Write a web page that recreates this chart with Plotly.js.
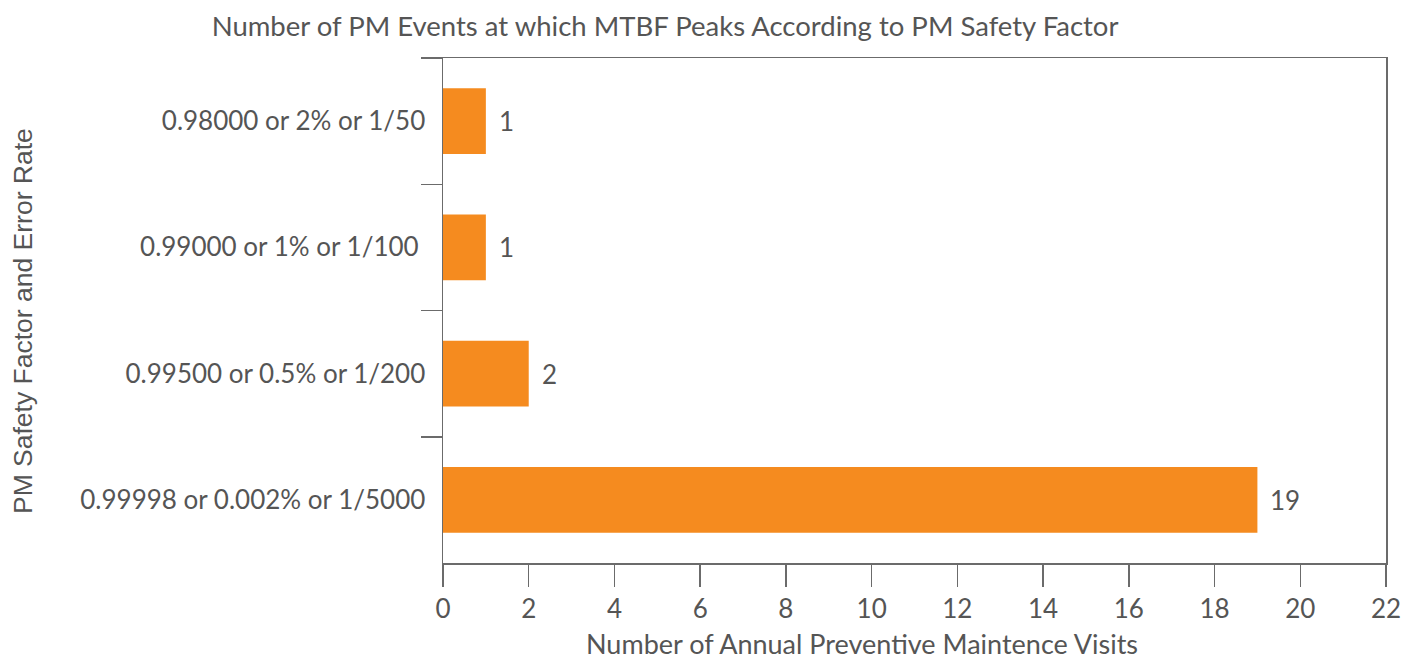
<!DOCTYPE html>
<html>
<head>
<meta charset="utf-8">
<script src="https://cdn.plot.ly/plotly-3.0.1.min.js"></script>
<style>
  html, body { margin: 0; padding: 0; background: #fff; }
  #chart { width: 1415px; height: 664px; }
</style>
</head>
<body>
<div id="chart"></div>
<script>
// top to bottom, as in the picture
const safetyFactors = [
  '0.98000 or 2% or 1/50',
  '0.99000 or 1% or 1/100\u00a0',
  '0.99500 or 0.5% or 1/200',
  '0.99998 or 0.002% or 1/5000',
];
const visits = [1, 1, 2, 19];
const xTicks = [0, 2, 4, 6, 8, 10, 12, 14, 16, 18, 20, 22];

const FAMILY = 'Lato, "Open Sans", sans-serif';
const TEXT_COLOR = '#555555';
const FONT = {family: FAMILY, size: 26, color: TEXT_COLOR};
const BAR_COLOR = '#F58B1F';
const LINE_COLOR = '#6b6b6b';

const traces = [{
  type: 'bar',
  orientation: 'h',
  x: visits,
  y: safetyFactors,
  marker: {color: BAR_COLOR},
  hoverinfo: 'x+y',
}];

const valueLabels = visits.map((v, i) => ({
  x: v,
  y: safetyFactors[i],
  xref: 'x',
  yref: 'y',
  text: String(v),
  showarrow: false,
  xanchor: 'left',
  xshift: 11,
  font: FONT,
}));

const layout = {
  width: 1415,
  height: 664,
  margin: {l: 443, r: 29, t: 58, b: 101},
  paper_bgcolor: '#ffffff',
  plot_bgcolor: '#ffffff',
  font: FONT,
  showlegend: false,
  bargap: 0.48,
  title: {
    text: 'Number of PM Events at which MTBF Peaks According to PM Safety Factor',
    x: 0.47,
    xanchor: 'center',
    y: 0.96,
    yanchor: 'middle',
    font: {family: FAMILY, size: 27.5, color: TEXT_COLOR},
  },
  xaxis: {
    range: [0, 22],
    tickvals: xTicks,
    ticks: 'outside',
    ticklen: 22,
    tickcolor: LINE_COLOR,
    tickwidth: 1.5,
    showgrid: false,
    zeroline: false,
    showline: true,
    linecolor: LINE_COLOR,
    linewidth: 1.5,
    mirror: true,
    tickfont: FONT,
  },
  yaxis: {
    type: 'category',
    autorange: 'reversed',
    ticks: 'outside',
    tickson: 'boundaries',
    ticklen: 21,
    ticklabelstandoff: 11,
    tickcolor: LINE_COLOR,
    tickwidth: 1.5,
    showgrid: false,
    zeroline: false,
    showline: true,
    linecolor: LINE_COLOR,
    linewidth: 1.5,
    mirror: true,
    tickfont: FONT,
  },
  annotations: valueLabels.concat([
    {
      text: 'Number of Annual Preventive Maintence Visits',
      xref: 'paper', yref: 'paper',
      x: 0.444, y: -0.196,
      xanchor: 'center', yanchor: 'bottom',
      showarrow: false,
      font: {family: FAMILY, size: 27, color: TEXT_COLOR},
    },
    {
      text: 'PM Safety Factor and Error Rate',
      xref: 'paper', yref: 'paper',
      x: -0.446, y: 0.48,
      xanchor: 'center', yanchor: 'middle',
      textangle: -90,
      showarrow: false,
      font: {family: '"Liberation Sans", Arial, sans-serif', size: 26.5, color: TEXT_COLOR},
    },
  ]),
};

Plotly.newPlot('chart', traces, layout, {displayModeBar: false, staticPlot: true});
</script>
</body>
</html>
